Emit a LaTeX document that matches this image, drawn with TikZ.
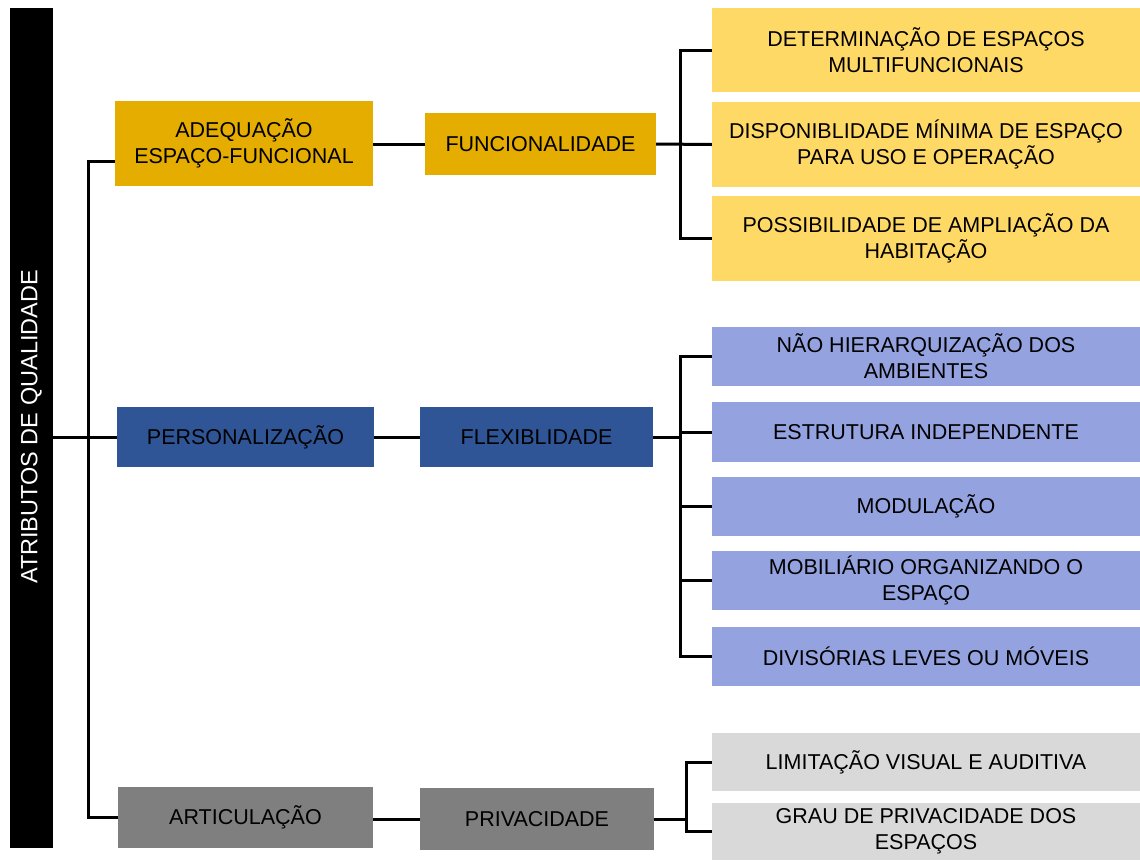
\documentclass[tikz,border=0pt]{standalone}
\usepackage{fontspec}
\setmainfont{Liberation Sans}
\definecolor{goldD}{HTML}{E4AD00}
\definecolor{goldL}{HTML}{FFD966}
\definecolor{blueD}{HTML}{2F5597}
\definecolor{blueL}{HTML}{94A3DF}
\definecolor{grayD}{HTML}{7F7F7F}
\definecolor{grayL}{HTML}{D9D9D9}
\begin{document}
\begin{tikzpicture}[x=1pt,y=-1pt,
  box/.style={rectangle,inner sep=0pt,align=center,text=black,
    font=\fontsize{21.5}{26}\selectfont},
  lvone/.style={box,minimum width=257pt},
  lvtwo/.style={box,minimum width=232pt},
  lvthree/.style={box,minimum width=428pt},
  conn/.style={line width=3pt,black}]
\useasboundingbox (0,0) rectangle (1140,860);
\fill[white] (0,0) rectangle (1140,860);

\node[rectangle,fill=black,inner sep=0pt,minimum width=43pt,minimum height=840pt] (bar) at (31.5,428) {};
\node[text=white,rotate=90,font=\fontsize{23.5}{27}\selectfont] (bartext) at (31.5,427) {ATRIBUTOS DE QUALIDADE};

% level 1
\node[lvone,fill=goldD,minimum height=85pt,minimum width=258pt] (adeq) at (244,143.5) {ADEQUAÇÃO\\ESPAÇO-FUNCIONAL};
\node[lvone,fill=blueD,minimum height=60pt] (pers) at (245.5,437) {PERSONALIZAÇÃO};
\node[lvone,fill=grayD,minimum height=61pt,minimum width=255pt] (artic) at (245.5,817.5) {ARTICULAÇÃO};

% level 2
\node[lvtwo,fill=goldD,minimum height=62pt,minimum width=231pt] (func) at (540.5,144) {FUNCIONALIDADE};
\node[lvtwo,fill=blueD,minimum height=60pt,minimum width=233pt] (flex) at (536.5,437) {FLEXIBLIDADE};
\node[lvtwo,fill=grayD,minimum height=62pt,minimum width=234pt] (priv) at (537,819) {PRIVACIDADE};

% level 3
\node[lvthree,fill=goldL,minimum height=84pt] (y1) at (926,50) {DETERMINAÇÃO DE ESPAÇOS\\MULTIFUNCIONAIS};
\node[lvthree,fill=goldL,minimum height=85pt] (y2) at (926,144.5) {DISPONIBLIDADE MÍNIMA DE ESPAÇO\\PARA USO E OPERAÇÃO};
\node[lvthree,fill=goldL,minimum height=85pt] (y3) at (926,238.5) {POSSIBILIDADE DE AMPLIAÇÃO DA\\HABITAÇÃO};

\node[lvthree,fill=blueL,minimum height=59pt] (b1) at (926,356.5) {NÃO HIERARQUIZAÇÃO DOS\\AMBIENTES};
\node[lvthree,fill=blueL,minimum height=60pt] (b2) at (926,432) {ESTRUTURA INDEPENDENTE};
\node[lvthree,fill=blueL,minimum height=59pt] (b3) at (926,506.5) {MODULAÇÃO};
\node[lvthree,fill=blueL,minimum height=59pt] (b4) at (926,580.5) {MOBILIÁRIO ORGANIZANDO O\\ESPAÇO};
\node[lvthree,fill=blueL,minimum height=59pt] (b5) at (926,656.5) {DIVISÓRIAS LEVES OU MÓVEIS};

\node[lvthree,fill=grayL,minimum height=58pt] (g1) at (926,762) {LIMITAÇÃO VISUAL E AUDITIVA};
\node[lvthree,fill=grayL,minimum height=57pt] (g2) at (926,831.5) {GRAU DE PRIVACIDADE DOS\\ESPAÇOS};

% trunk
\coordinate (j1) at (88,161);
\draw[conn] (bar.east |- pers.west) -- (pers.west);
\draw[conn] ([yshift=-17.5pt]adeq.west) -- (j1) -- (j1 |- artic.west) -- (artic.west);

% level1 -> level2
\draw[conn] (adeq.east |- func.west) -- (func.west);
\draw[conn] (pers.east) -- (flex.west);
\draw[conn] (artic.east |- priv.west) -- (priv.west);

% funcionalidade branch
\coordinate (fj) at (680,144);
\draw[conn] (func.east) -- (y2.west);
\draw[conn] (y1.west) -| (fj |- y3.west) -- (y3.west);

% flexiblidade branch
\coordinate (xj) at (680,437);
\draw[conn] (flex.east) -- (xj);
\draw[conn] (b1.west) -| (xj |- b5.west) -- (b5.west);
\draw[conn] (xj |- b2.west) -- (b2.west);
\draw[conn] (xj |- b3.west) -- (b3.west);
\draw[conn] (xj |- b4.west) -- (b4.west);

% privacidade branch
\coordinate (pj) at (686,819);
\draw[conn] (priv.east) -- (pj);
\draw[conn] (g1.west) -| (pj |- g2.west) -- (g2.west);
\end{tikzpicture}
\end{document}
